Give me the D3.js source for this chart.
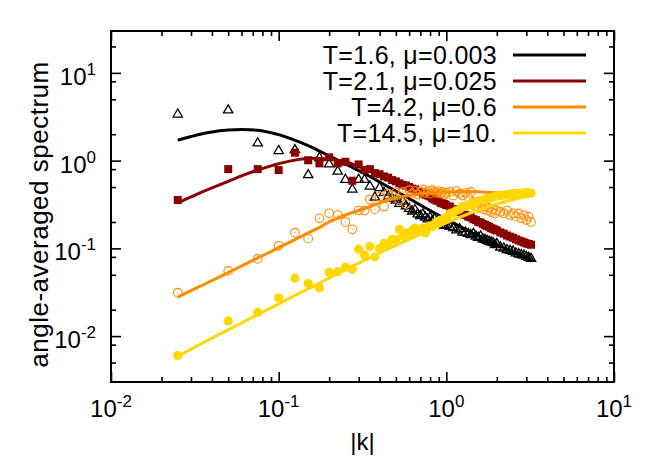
<!DOCTYPE html>
<html><head><meta charset="utf-8">
<script src="https://cdn.jsdelivr.net/npm/d3@7/dist/d3.min.js"></script>
<style>
body{margin:0;background:#fff}
svg{display:block}
text{font-family:"Liberation Sans",Arial,Helvetica,sans-serif;fill:#000}
</style>
</head><body>
<svg id="chart" width="664" height="465"></svg>
<script>
// ---------- data ----------
const kValues = [0.025,0.05,0.075,0.1,0.125,0.15,0.175,0.2,0.225,0.25,0.275,0.3,0.325,0.35,0.375,0.4,0.425,0.45,0.475,0.5,
  0.525,0.55,0.575,0.6,0.625,0.65,0.675,0.7,0.725,0.75,0.775,0.8,0.825,0.85,0.875,0.9,0.925,0.95,0.975,1.0,
  1.05,1.1,1.15,1.2,1.25,1.3,1.35,1.4,1.45,1.5,1.55,1.6,1.65,1.7,1.75,1.8,1.85,1.9,1.95,2.0,
  2.1,2.2,2.3,2.4,2.5,2.6,2.7,2.8,2.9,3.0,3.1,3.2];

const dataT16 = [3.44,3.83,1.61,1.32,1.35,0.70,1.10,0.93,0.77,0.62,0.48,0.62,0.62,0.52,0.39,0.50,0.44,0.40,0.38,0.36,
  0.33,0.35,0.31,0.29,0.27,0.28,0.25,0.24,0.25,0.23,0.22,0.23,0.21,0.22,0.20,0.21,0.19,0.20,0.185,0.19,
  0.18,0.175,0.165,0.17,0.155,0.155,0.15,0.145,0.15,0.14,0.135,0.14,0.13,0.128,0.125,0.122,0.12,0.118,0.112,0.115,
  0.105,0.102,0.098,0.096,0.094,0.09,0.088,0.086,0.085,0.082,0.080,0.078];

const dataT21 = [0.356,0.80,0.80,0.78,1.23,1.01,0.93,1.09,0.93,0.97,0.59,0.905,0.78,0.80,0.72,0.70,0.66,0.64,0.60,0.58,
  0.55,0.53,0.52,0.50,0.48,0.47,0.45,0.44,0.42,0.41,0.40,0.39,0.37,0.36,0.35,0.345,0.33,0.325,0.32,0.31,
  0.30,0.28,0.265,0.26,0.245,0.24,0.23,0.225,0.215,0.21,0.20,0.197,0.19,0.185,0.18,0.176,0.17,0.167,0.163,0.16,
  0.152,0.147,0.14,0.136,0.132,0.127,0.123,0.12,0.117,0.114,0.112,0.11];

const dataT42 = [0.0313,0.0553,0.0759,0.107,0.151,0.129,0.22,0.251,0.24,0.20,0.165,0.27,0.27,0.36,0.28,0.39,0.30,0.42,0.40,0.43,
  0.36,0.44,0.32,0.46,0.42,0.45,0.41,0.44,0.47,0.43,0.45,0.42,0.46,0.44,0.43,0.45,0.42,0.44,0.41,0.43,
  0.44,0.40,0.45,0.42,0.40,0.43,0.38,0.44,0.34,0.30,0.29,0.31,0.28,0.30,0.27,0.29,0.26,0.28,0.25,0.27,
  0.26,0.25,0.27,0.24,0.25,0.23,0.25,0.22,0.24,0.21,0.23,0.20];

const dataT145 = [0.006,0.0149,0.0186,0.0273,0.0457,0.0397,0.0355,0.0535,0.054,0.061,0.058,0.098,0.084,0.105,0.08,0.10,0.114,0.11,0.127,0.125,
  0.165,0.14,0.15,0.142,0.16,0.17,0.155,0.165,0.17,0.15,0.175,0.18,0.177,0.19,0.2,0.195,0.21,0.205,0.22,0.225,
  0.25,0.255,0.27,0.28,0.30,0.30,0.31,0.32,0.325,0.33,0.345,0.35,0.355,0.36,0.37,0.375,0.38,0.385,0.39,0.395,
  0.40,0.405,0.41,0.415,0.42,0.42,0.425,0.425,0.43,0.43,0.43,0.425];

const fitK = [0.025,0.03,0.035,0.04,0.05,0.06,0.075,0.09,0.1,0.12,0.15,0.17,0.2,0.25,0.3,0.35,0.4,0.5,0.6,0.8,1.0,1.3,1.6,2.0,2.5,3.2];
const fitT16  = [1.71,1.88,2.02,2.12,2.23,2.27,2.22,2.08,1.98,1.76,1.48,1.32,1.13,0.92,0.77,0.66,0.57,0.45,0.37,0.27,0.215,0.165,0.135,0.11,0.092,0.075];
const fitT21  = [0.33,0.385,0.44,0.49,0.58,0.67,0.78,0.87,0.92,1.0,1.055,1.065,1.04,0.97,0.86,0.77,0.70,0.59,0.51,0.40,0.32,0.25,0.20,0.16,0.13,0.105];
const fitT42  = [0.0278,0.033,0.038,0.043,0.053,0.063,0.078,0.092,0.102,0.121,0.15,0.168,0.2,0.24,0.27,0.30,0.33,0.375,0.40,0.43,0.44,0.445,0.44,0.43,0.42,0.40];
const fitT145 = [0.0059,0.0071,0.0083,0.0095,0.0118,0.0141,0.0176,0.021,0.0233,0.028,0.0345,0.039,0.046,0.057,0.068,0.078,0.089,0.108,0.127,0.162,0.195,0.24,0.28,0.32,0.36,0.40];

const legendLabels = ["T=1.6, \u03BC=0.003","T=2.1, \u03BC=0.025","T=4.2, \u03BC=0.6","T=14.5, \u03BC=10."];
const xMajorTicks = [0.01,0.1,1,10];
const xTickExponents = ["-2","-1","0","1"];
const yMajorTicks = [0.01,0.1,1,10];
const yTickExponents = ["-2","-1","0","1"];
const xMinorTicks = [0.02,0.03,0.04,0.05,0.06,0.07,0.08,0.09,0.2,0.3,0.4,0.5,0.6,0.7,0.8,0.9,2,3,4,5,6,7,8,9];
const yMinorTicks = [0.005,0.008,0.02,0.05,0.08,0.2,0.5,0.8,2,5,8,20];
const xTitle = "|k|";
const yTitle = "angle-averaged spectrum";

// ---------- layout ----------
const colors = ["#000000","#8b0000","#ff8c00","#ffd700"];
const L = 111, R = 614, T = 31, B = 382;
const svg = d3.select("#chart");
const x = d3.scaleLog().domain([0.01,10]).range([L,R]);
const y = d3.scaleLog().domain([0.003,30]).range([B,T]);

// ---------- ticks ----------
function tickAxis(gen, tx, ty, size, vals){
  const g = svg.append("g").attr("transform",`translate(${tx},${ty})`)
    .call(gen.tickValues(vals).tickSize(size).tickSizeOuter(0).tickFormat(""));
  g.select(".domain").remove();
  g.selectAll(".tick line").attr("stroke","#000").attr("stroke-width",1.6);
}
tickAxis(d3.axisBottom(x), 0, B, -10, xMajorTicks);
tickAxis(d3.axisBottom(x), 0, B, -5, xMinorTicks);
tickAxis(d3.axisTop(x), 0, T, -10, xMajorTicks);
tickAxis(d3.axisTop(x), 0, T, -5, xMinorTicks);
tickAxis(d3.axisLeft(y), L, 0, -10, yMajorTicks);
tickAxis(d3.axisLeft(y), L, 0, -5, yMinorTicks);
tickAxis(d3.axisRight(y), R, 0, -10, yMajorTicks);
tickAxis(d3.axisRight(y), R, 0, -5, yMinorTicks);

// frame
svg.append("rect").attr("x",L).attr("y",T).attr("width",R-L).attr("height",B-T)
  .attr("fill","none").attr("stroke","#000").attr("stroke-width",2);

// tick labels
const FS = 24, SFS = 17;
xMajorTicks.forEach((v,i)=>{
  const t = svg.append("text").attr("x",x(v)).attr("y",B+35).attr("text-anchor","middle").style("font-size",FS+"px");
  t.append("tspan").text("10");
  t.append("tspan").attr("dy",-10).style("font-size",SFS+"px").text(xTickExponents[i]);
});
yMajorTicks.forEach((v,i)=>{
  const t = svg.append("text").attr("x",L-15).attr("y",y(v)+12).attr("text-anchor","end").style("font-size",FS+"px");
  t.append("tspan").text("10");
  t.append("tspan").attr("dy",-10).style("font-size",SFS+"px").text(yTickExponents[i]);
});

// axis titles
svg.append("text").attr("x",(L+R)/2).attr("y",450).attr("text-anchor","middle").style("font-size",FS+"px").text(xTitle);
svg.append("text").attr("transform",`translate(${48},${(T+B)/2 + 8}) rotate(-90)`).attr("text-anchor","middle")
  .style("font-size","26px").style("letter-spacing","0.5px").text(yTitle);

// ---------- marks ----------
const plot = svg.append("g");
const line = d3.line().x(d=>x(d[0])).y(d=>y(d[1])).curve(d3.curveMonotoneX);
const seriesData = [dataT16,dataT21,dataT42,dataT145];
const seriesFits = [fitT16,fitT21,fitT42,fitT145];

seriesData.forEach((vals,si)=>{
  const pts = kValues.map((k,i)=>[k,vals[i]]);
  const g = plot.append("g");
  const c = colors[si];
  if(si===0){
    const tri = d3.symbol().type(d3.symbolTriangle).size(38);
    g.selectAll("path").data(pts).join("path")
      .attr("transform",d=>`translate(${x(d[0])},${y(d[1])+0.8})`)
      .attr("d",tri()).attr("fill","none").attr("stroke",c).attr("stroke-width",1.3);
  } else if(si===1){
    g.selectAll("rect").data(pts).join("rect")
      .attr("x",d=>x(d[0])-4).attr("y",d=>y(d[1])-4).attr("width",8).attr("height",8).attr("fill",c);
  } else if(si===2){
    g.selectAll("circle").data(pts).join("circle")
      .attr("cx",d=>x(d[0])).attr("cy",d=>y(d[1])).attr("r",4.3)
      .attr("fill","none").attr("stroke",c).attr("stroke-width",1.1);
    g.selectAll("circle.dot").data(pts).join("circle").attr("class","dot")
      .attr("cx",d=>x(d[0])).attr("cy",d=>y(d[1])).attr("r",0.6).attr("fill",c);
  } else {
    g.selectAll("circle").data(pts).join("circle")
      .attr("cx",d=>x(d[0])).attr("cy",d=>y(d[1])).attr("r",4.6).attr("fill",c);
  }
  const fit = fitK.map((k,i)=>[k,seriesFits[si][i]]);
  plot.append("path").datum(fit).attr("d",line).attr("fill","none").attr("stroke",c).attr("stroke-width",3);
});

// ---------- legend ----------
legendLabels.forEach((lab,i)=>{
  const yy = 55 + i*26;
  svg.append("text").attr("x",497).attr("y",yy+9).attr("text-anchor","end")
    .style("font-size","25px").style("letter-spacing","0.3px").text(lab);
  svg.append("line").attr("x1",513).attr("x2",586).attr("y1",yy).attr("y2",yy)
    .attr("stroke",colors[i]).attr("stroke-width",3);
});
</script>
</body></html>
